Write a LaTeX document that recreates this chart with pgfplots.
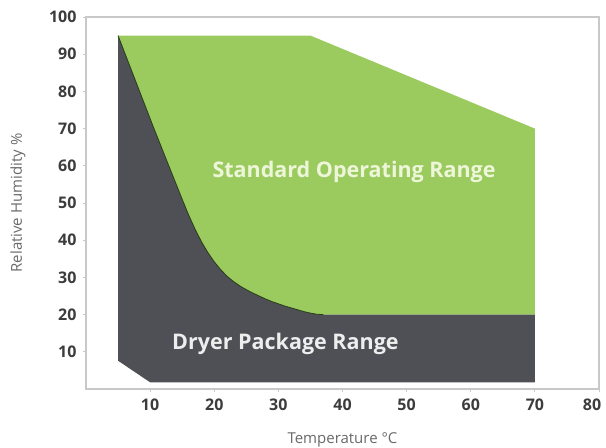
\documentclass[border=0pt]{standalone}
\usepackage{pgfplots}
\pgfplotsset{compat=1.18}
\usepackage{fontspec}
\setmainfont{Open Sans}
\definecolor{opgreen}{RGB}{155,203,95}
\definecolor{drydark}{RGB}{78,80,86}
\definecolor{edgeline}{RGB}{40,62,22}
\definecolor{framecol}{RGB}{200,200,200}
\definecolor{ticklab}{RGB}{60,60,60}
\definecolor{axlab}{RGB}{105,105,105}
\definecolor{stdtext}{RGB}{238,246,218}
\definecolor{drytext}{RGB}{238,238,238}
\begin{document}
\begin{tikzpicture}
\begin{axis}[name=ax, scale only axis, width=513pt, height=372pt,
  xmin=0, xmax=80, ymin=0, ymax=100,
  xtick={10,20,...,70}, ytick={10,20,...,100},
  extra x ticks={80},
  extra x tick style={xticklabel style={xshift=-7pt}},
  axis line style={draw=framecol, line width=1.2pt},
  tick style={draw=framecol, line width=0.8pt}, tick align=outside, major tick length=3pt,
  xtick pos=bottom, ytick pos=left,
  /pgf/number format/assume math mode=true,
  ticklabel style={font=\fontsize{16}{16}\selectfont\bfseries, text=ticklab},
  yticklabel style={xshift=-3pt},
  xticklabel style={yshift=-3pt},
  xlabel={Temperature °C}, ylabel={Relative Humidity \%},
  label style={font=\fontsize{15}{15}\selectfont, text=axlab},
  xlabel style={at={(axis description cs:0.5,0)}, anchor=center, yshift=-51pt},
  ylabel style={at={(axis description cs:0,0.5)}, anchor=center, yshift=68pt},
]
% Standard operating range (green)
\addplot[fill=opgreen, draw=none] coordinates {
  (5,95) (35,95) (70,70) (70,20) (37,20) (36,20.1) (35,20.4) (34,20.8) (33,21.3)
  (32,21.8) (31,22.3) (30,22.9) (29,23.5) (28,24.2) (27,25) (26,25.8) (25,26.7)
  (24,27.7) (23,28.9) (22,30.3) (21,32.1) (20,34.2) (19,36.7) (18,39.6) (17,43)
  (16,46.8) (15,51) (10.6,70) (5,95)
} -- cycle;
% Dryer package range (dark)
\addplot[fill=drydark, draw=none] coordinates {
  (5,95) (10.6,70) (15,51) (16,46.8) (17,43) (18,39.6) (19,36.7) (20,34.2)
  (21,32.1) (22,30.3) (23,28.9) (24,27.7) (25,26.7) (26,25.8) (27,25) (28,24.2)
  (29,23.5) (30,22.9) (31,22.3) (32,21.8) (33,21.3) (34,20.8) (35,20.4) (36,20.1)
  (37,20) (70,20) (70,1.8) (10,1.8) (5,7.6)
} -- cycle;
% boundary line
\addplot[draw=edgeline, line width=0.8pt] coordinates {
  (5,95) (10.6,70) (15,51) (16,46.8) (17,43) (18,39.6) (19,36.7) (20,34.2)
  (21,32.1) (22,30.3) (23,28.9) (24,27.7) (25,26.7) (26,25.8) (27,25) (28,24.2)
  (29,23.5) (30,22.9) (31,22.3) (32,21.8) (33,21.3) (34,20.8) (35,20.4) (36,20.1)
  (37,20)
};
\node[text=stdtext, font=\fontsize{21.5}{21.5}\selectfont\bfseries] at (axis cs:41.8,58.3) {Standard Operating Range};
\node[text=drytext, font=\fontsize{21.5}{21.5}\selectfont\bfseries] at (axis cs:31.1,12) {Dryer Package Range};
\end{axis}
\pgfresetboundingbox
\path[use as bounding box] ([xshift=-86pt,yshift=-58pt]ax.south west) rectangle ([xshift=7pt,yshift=17pt]ax.north east);
\end{tikzpicture}
\end{document}
